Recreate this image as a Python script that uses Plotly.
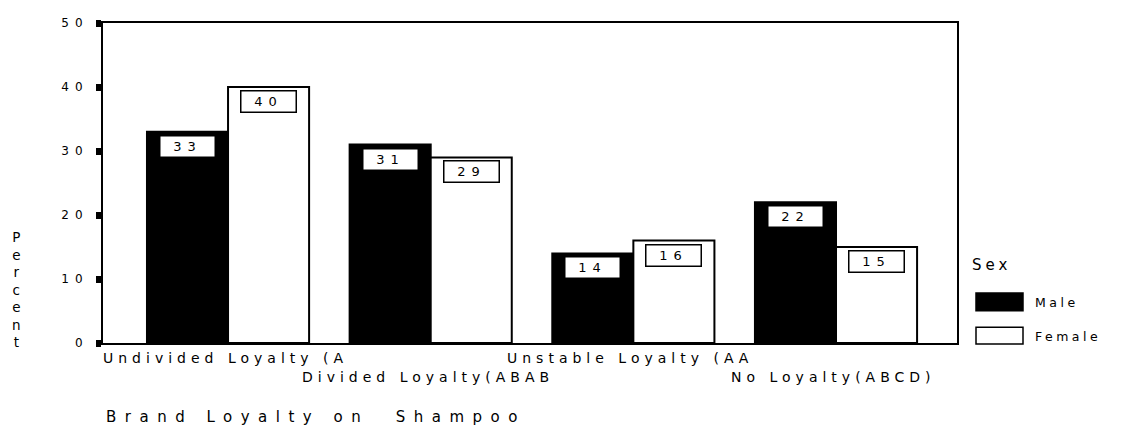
import plotly.graph_objects as go

# ---- data ----
categories = ["Undivided Loyalty (A", "Divided Loyalty(ABAB",
              "Unstable Loyalty (AA", "No Loyalty(ABCD)"]
male = [33, 31, 14, 22]
female = [40, 29, 16, 15]
series_names = ["Male", "Female"]
y_ticks = [0, 10, 20, 30, 40, 50]
x_title = "Brand Loyalty on\u00a0 Shampoo"
y_title = "Percent"
legend_title = "Sex"

# ---- style ----
FONT = "DejaVu Sans, Liberation Sans, Arial, sans-serif"
PAGE_PAD = 8  # default body margin of the html page
W, H = 1125 - PAGE_PAD, 428 - PAGE_PAD
M = dict(l=95, r=168, t=8, b=85)
PW = W - M["l"] - M["r"]
PH = H - M["t"] - M["b"]


def ls(text, px):
    return f'<span style="letter-spacing:{px}px">{text}</span>'


def px_x(px):
    return (px - PAGE_PAD - M["l"]) / PW


def px_y(py):
    return (H - M["b"] - (py - PAGE_PAD)) / PH


fig = go.Figure()
fig.add_trace(go.Bar(x=list(range(len(categories))), y=male, name=series_names[0],
                     marker=dict(color="black", line=dict(color="black", width=2)),
                     showlegend=False))
fig.add_trace(go.Bar(x=list(range(len(categories))), y=female, name=series_names[1],
                     marker=dict(color="white", line=dict(color="black", width=2)),
                     showlegend=False))

annotations = []
half = 0.2
# value boxes
for vals, off in ((male, -half), (female, half)):
    for i, v in enumerate(vals):
        annotations.append(dict(
            x=i + off, y=v, xref="x", yref="y", text=ls(str(v), 6),
            showarrow=False, yanchor="top", xanchor="center", yshift=-3,
            font=dict(family=FONT, size=13, color="black"),
            bgcolor="white", bordercolor="black", borderwidth=1.5, borderpad=1.5,
            width=51, height=17))

# staggered category labels
for i, c in enumerate(categories):
    row = i % 2
    annotations.append(dict(
        x=i, y=0, xref="x", yref="paper", text=ls(c, 5.0), showarrow=False,
        xanchor="center", yanchor="middle", xshift=-3, yshift=-(15 + 19 * row),
        font=dict(family=FONT, size=14, color="black")))

# x title
annotations.append(dict(
    x=px_x(104), y=0, xref="paper", yref="paper", text=ls(x_title, 8.5),
    showarrow=False, xanchor="left", yanchor="middle", yshift=-74,
    font=dict(family=FONT, size=15, color="black")))

# y title (stacked letters)
annotations.append(dict(
    x=px_x(16), y=px_y(288), xref="paper", yref="paper",
    text="<br>".join(list(y_title)), showarrow=False,
    xanchor="center", yanchor="middle",
    font=dict(family=FONT, size=13.5, color="black")))

# legend
annotations.append(dict(
    x=px_x(970), y=px_y(263), xref="paper", yref="paper", text=ls(legend_title, 4),
    showarrow=False, xanchor="left", yanchor="middle",
    font=dict(family=FONT, size=15, color="black")))
shapes = []
legend_rows = [(series_names[0], "black", 292, 310), (series_names[1], "white", 327, 344)]
for name, col, top, bot in legend_rows:
    shapes.append(dict(type="rect", xref="paper", yref="paper",
                       x0=px_x(976), x1=px_x(1023), y0=px_y(bot), y1=px_y(top),
                       fillcolor=col, line=dict(color="black", width=1.5)))
    annotations.append(dict(
        x=px_x(1033), y=px_y((top + bot) / 2 + 1), xref="paper", yref="paper",
        text=ls(name, 3.5), showarrow=False, xanchor="left", yanchor="middle",
        font=dict(family=FONT, size=12.5, color="black")))

fig.update_layout(
    width=W, height=H, margin=M,
    paper_bgcolor="white", plot_bgcolor="white",
    barmode="group", bargap=0.2, bargroupgap=0,
    font=dict(family=FONT, color="black"),
    annotations=annotations, shapes=shapes,
    xaxis=dict(range=[-0.617, 3.597], showticklabels=False, ticks="",
               showgrid=False, zeroline=False, showline=True, mirror=True,
               linecolor="black", linewidth=2),
    yaxis=dict(range=[0, 50], tickvals=y_ticks,
               ticktext=[ls(str(t), 6) for t in y_ticks],
               ticks="outside", ticklen=5, tickwidth=7, tickcolor="black",
               ticklabelstandoff=5,
               tickfont=dict(family=FONT, size=12, color="black"),
               showgrid=False, zeroline=False, showline=True, mirror=True,
               linecolor="black", linewidth=2),
)

fig.write_html("out.html")
